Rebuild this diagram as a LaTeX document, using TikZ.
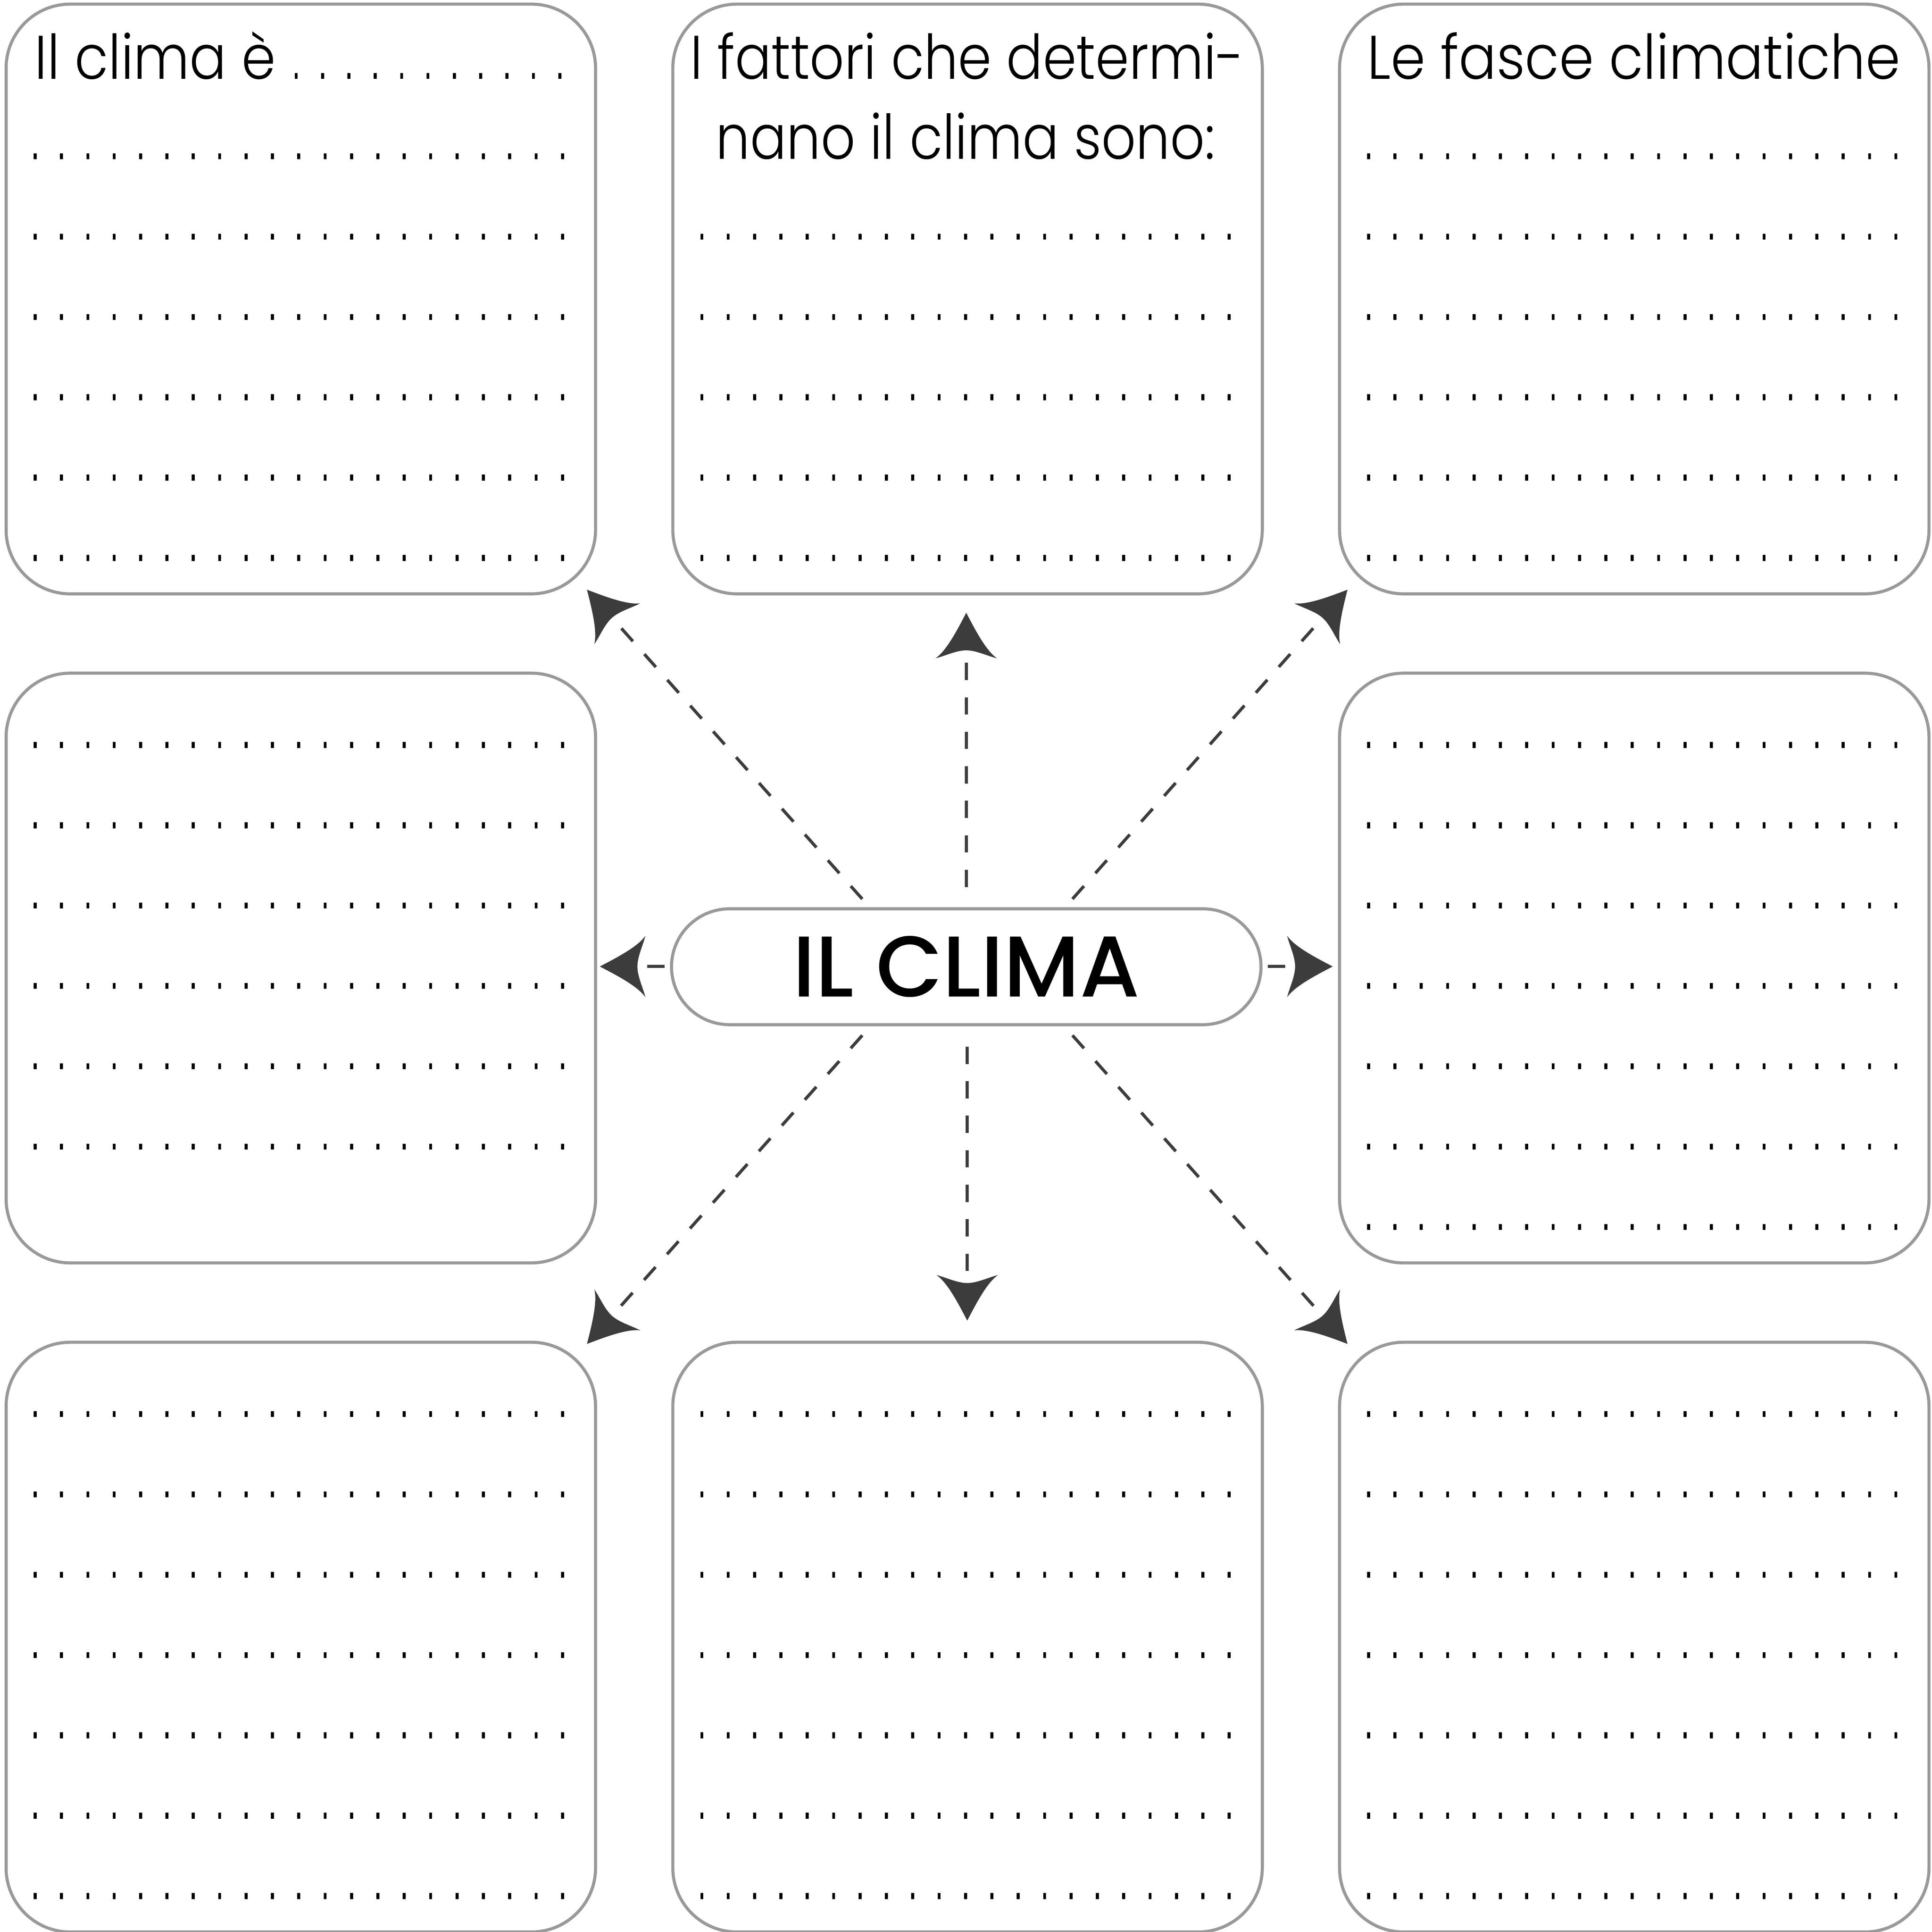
\documentclass[tikz,border=0pt]{standalone}
\usepackage{graphicx}
\usepackage{fontspec}
\setmainfont{Poppins}[UprightFont=* Light, BoldFont=* Medium]
\usetikzlibrary{arrows.meta}
\definecolor{boxgray}{HTML}{999999}
\definecolor{arrgray}{HTML}{3C3C3C}
\newcommand\hsqueeze[2]{\scalebox{#1}[1]{#2}}
\pgfdeclarearrow{
  name = Curvy,
  setup code = {
    \pgfarrowssettipend{0pt}
    \pgfarrowssetlineend{-29pt}
    \pgfarrowssetbackend{-37pt}
    \pgfarrowshullpoint{0pt}{0pt}
    \pgfarrowshullpoint{-37pt}{25pt}
    \pgfarrowshullpoint{-37pt}{-25pt}
  },
  drawing code = {
    \pgfpathmoveto{\pgfqpoint{0pt}{0pt}}
    \pgfpathcurveto{\pgfqpoint{-13pt}{6.8pt}}{\pgfqpoint{-31pt}{16pt}}{\pgfqpoint{-37pt}{25pt}}
    \pgfpathcurveto{\pgfqpoint{-35pt}{17pt}}{\pgfqpoint{-30.5pt}{8pt}}{\pgfqpoint{-30.5pt}{0pt}}
    \pgfpathcurveto{\pgfqpoint{-30.5pt}{-8pt}}{\pgfqpoint{-35pt}{-17pt}}{\pgfqpoint{-37pt}{-25pt}}
    \pgfpathcurveto{\pgfqpoint{-31pt}{-16pt}}{\pgfqpoint{-13pt}{-6.8pt}}{\pgfqpoint{0pt}{0pt}}
    \pgfpathclose
    \pgfusepathqfill
  }
}
\begin{document}
\begin{tikzpicture}[x=1pt,y=-1pt,
  box/.style={draw=boxgray, line width=2.5pt, rounded corners=52pt,
    minimum width=478.4pt, minimum height=478.6pt, inner sep=0pt, anchor=north west},
  pill/.style={draw=boxgray, line width=2.5pt, rounded corners=47pt,
    minimum width=478.4pt, minimum height=94pt, inner sep=0pt,
    font=\fontsize{70}{80}\selectfont\bfseries},
  txt/.style={font=\fontsize{50}{60}\selectfont, inner sep=0pt},
  conn/.style={color=arrgray, line width=2.5pt, dash pattern=on 14pt off 14pt, -{Curvy}},
  dotmark/.style={fill=black}]
\useasboundingbox (0,0) rectangle (1568,1568);
% boxes
\node[box] (bTL) at (3.7,2.1) {};
\node[box] (bTM) at (544.8,2.1) {};
\node[box] (bTR) at (1085.9,2.1) {};
\node[box] (bML) at (3.7,545.1) {};
\node[box] (bMR) at (1085.9,545.1) {};
\node[box] (bBL) at (3.7,1088.1) {};
\node[box] (bBM) at (544.8,1088.1) {};
\node[box] (bBR) at (1085.9,1088.1) {};
% dotted writing lines
\foreach \bx/\by/\kf/\kt in {3.7/2.1/1/6, 544.8/2.1/2/6, 1085.9/2.1/1/6,
    3.7/545.1/0/5, 1085.9/545.1/0/6,
    3.7/1088.1/0/6, 544.8/1088.1/0/6, 1085.9/1088.1/0/6}{
  \foreach \k in {\kf,...,\kt}{
    \foreach \j in {0,...,20}{
      \fill[dotmark] ({\bx+24.8+21.4*\j-1.2},{\by+61.9+65.2*\k-4.8}) rectangle ++(2.4,4.8);
    }
  }
}
% headings
\node[txt, anchor=base west] (h1) at (28,64) {\hsqueeze{0.89}{Il clima è}};
\foreach \j in {0,...,10}{
  \fill[dotmark] ({240.4+21.39*\j-1.2},59.2) rectangle ++(2.4,4.8);
}
\node[txt, anchor=base] (h2a) at (785,64) {\hsqueeze{0.875}{I fattori che determi-}};
\node[txt, anchor=base] (h2b) at (783.5,129.2) {\hsqueeze{0.876}{nano il clima sono:}};
\node[txt, anchor=base] (h3) at (1326,64) {\hsqueeze{0.905}{Le fasce climatiche}};
% centre
\node[pill] (c) at (784.2,784.6) {IL CLIMA};
% connector ends
\coordinate (sU) at (784.2,719.9);   \coordinate (tU) at (784.2,497.3);
\coordinate (sD) at (785,849.5);     \coordinate (tD) at (785,1071.8);
\coordinate (sL) at (539.4,784.4);   \coordinate (tL) at (486.8,784.4);
\coordinate (sR) at (1029.0,784.4);  \coordinate (tR) at (1081.6,784.4);
\coordinate (sUL) at (699.8,729.6);  \coordinate (tUL) at (476.4,478.6);
\coordinate (sUR) at (870.4,729.6);  \coordinate (tUR) at (1093.6,478.6);
\coordinate (sLL) at (699.8,840.3);  \coordinate (tLL) at (476.4,1090.7);
\coordinate (sLR) at (870.4,840.3);  \coordinate (tLR) at (1093.6,1090.7);
\foreach \d in {U,D,L,R,UL,UR,LL,LR}{
  \draw[conn] (s\d) -- (t\d);
}
\end{tikzpicture}
\end{document}
